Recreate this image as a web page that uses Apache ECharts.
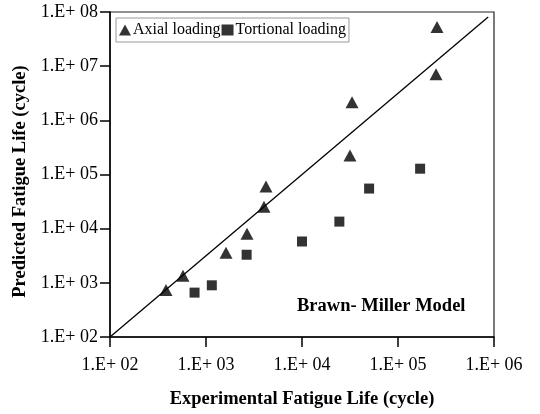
<!DOCTYPE html>
<html>
<head>
<meta charset="utf-8">
<script src="https://cdn.jsdelivr.net/npm/echarts@6/dist/echarts.min.js"></script>
<style>
  html, body { margin: 0; padding: 0; background: #fff; }
  #main { width: 540px; height: 414px; }
</style>
</head>
<body>
<div id="main"></div>
<script>
(function () {
    'use strict';

    // experimental life / predicted life (cycles)
    var axialExp  = [383, 576, 1616, 2673, 4018, 4217, 31600, 33200, 249000, 255000];
    var axialPred = [741, 1349, 3594, 8070, 25500, 60000, 225000, 2150000, 7100000, 52700000];
    var torsExp   = [760, 1150, 2650, 10000, 24500, 50000, 170000];
    var torsPred  = [660, 900, 3300, 5800, 13500, 55000, 128000];
    var refLineX  = [100, 870000];
    var refLineY  = [100, 81000000];

    var font = 'Liberation Serif, Times New Roman, serif';

    function pairs(xs, ys) {
        return xs.map(function (x, i) { return [x, ys[i]]; });
    }
    function sciLabel(v) {
        var e = Math.round(Math.log10(v));
        return '1.E+ ' + (e < 10 ? '0' + e : e);
    }

    var myChart = echarts.init(document.getElementById('main'));

    var axisCommon = {
        type: 'log',
        logBase: 10,
        interval: 1,
        nameLocation: 'middle',
        nameTextStyle: { fontFamily: font, fontWeight: 'bold', fontSize: 18.5, color: '#000' },
        axisLine: { show: true, lineStyle: { color: '#000', width: 1.5 } },
        axisTick: { show: true, inside: false, length: 10, lineStyle: { color: '#000', width: 1.5 } },
        axisLabel: { fontFamily: font, fontSize: 18, color: '#000', formatter: sciLabel },
        splitLine: { show: false },
        minorTick: { show: false }
    };

    var option = {
        backgroundColor: '#fff',
        animation: false,
        grid: {
            left: 110, right: 46, top: 12, bottom: 77,
            show: true, borderColor: '#222', borderWidth: 1.2, backgroundColor: 'transparent'
        },
        title: {
            text: 'Brawn- Miller Model',
            left: 292, top: 292,
            textStyle: { fontFamily: font, fontWeight: 'bold', fontSize: 18.5, color: '#000' }
        },
        legend: {
            left: 116, top: 18,
            orient: 'horizontal',
            borderColor: '#999', borderWidth: 1,
            padding: [4, 3, 4, 3],
            itemGap: 1,
            itemWidth: 12, itemHeight: 11,
            textStyle: { fontFamily: font, fontSize: 16, color: '#000', padding: [0, 0, 0, -3] },
            data: [
                { name: 'Axial loading', icon: 'triangle' },
                { name: 'Tortional loading', icon: 'rect' }
            ]
        },
        xAxis: echarts.util.merge({
            min: 100, max: 1000000,
            name: 'Experimental Fatigue Life (cycle)',
            nameGap: 53,
            axisLabel: { margin: 19 }
        }, axisCommon),
        yAxis: echarts.util.merge({
            min: 100, max: 100000000,
            name: 'Predicted Fatigue Life (cycle)',
            nameGap: 76,
            nameTextStyle: { padding: [0, 0, 0, -14] },
            axisLabel: { margin: 12 }
        }, axisCommon),
        series: [
            {
                name: 'ref',
                type: 'line',
                data: pairs(refLineX, refLineY),
                symbol: 'none',
                silent: true,
                lineStyle: { color: '#000', width: 1.3 },
                z: 1
            },
            {
                name: 'Axial loading',
                type: 'scatter',
                symbol: 'triangle',
                symbolSize: [13, 12],
                itemStyle: { color: '#000' },
                data: pairs(axialExp, axialPred),
                z: 3
            },
            {
                name: 'Tortional loading',
                type: 'scatter',
                symbol: 'rect',
                symbolSize: 10,
                itemStyle: { color: '#000' },
                data: pairs(torsExp, torsPred),
                z: 3
            }
        ]
    };

    myChart.setOption(option, true);
}());
</script>
</body>
</html>
